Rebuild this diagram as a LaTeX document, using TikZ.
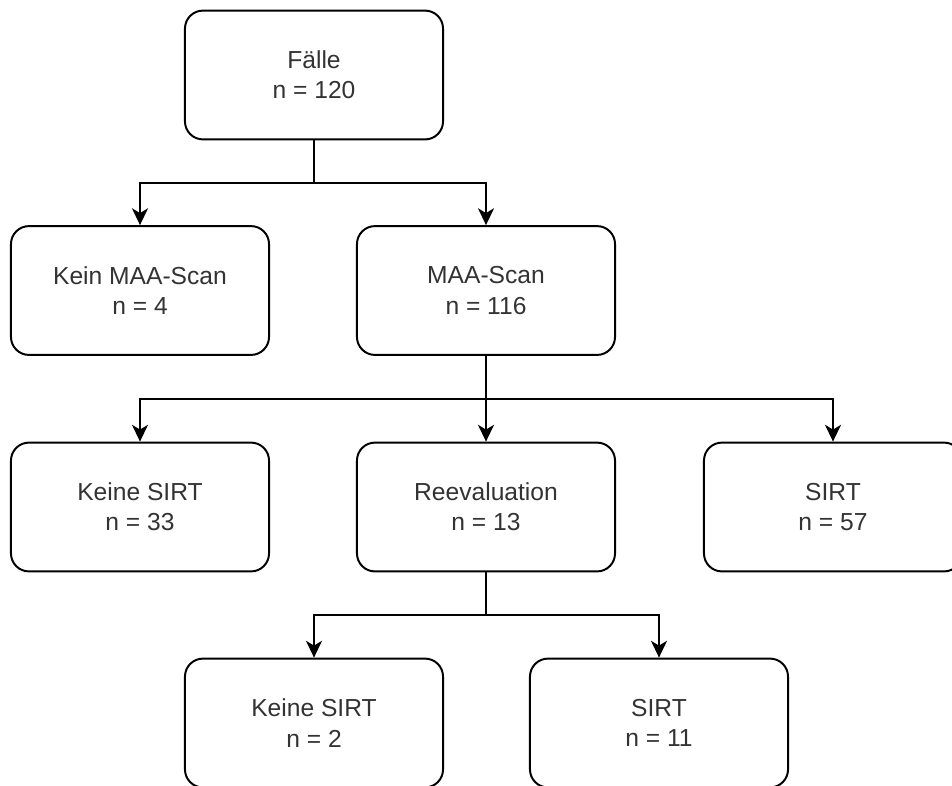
\documentclass[tikz,border=0pt]{standalone}
\usepackage{fontspec}
\setmainfont{Liberation Sans}
\usetikzlibrary{arrows.meta,positioning}

\begin{document}
\begin{tikzpicture}[x=0.025cm,y=-0.025cm,
	box/.style={draw,line width=1.4pt,rounded corners=0.45cm,fill=white,text=black!80,
		minimum width=6.45cm,minimum height=3.22cm,align=center,
		font=\fontsize{17.5}{21.5}\selectfont},
	link/.style={line width=1.4pt},
	arr/.style={line width=1.4pt,-{Stealth[length=0.42cm,width=0.4cm,inset=0.12cm]}}]
		\clip (0,0) rectangle (952,785);
		\node[box] (faelle) at (314,75) {Fälle\\n = 120};
		\node[box] (keinmaa) at (140,290.5) {Kein MAA-Scan\\n = 4};
		\node[box] (maa) at (486,290.5) {MAA-Scan\\n = 116};
		\node[box] (keinsirt) at (140,507) {Keine SIRT\\n = 33};
		\node[box] (reeval) at (486,507) {Reevaluation\\n = 13};
		\node[box] (sirt) at (833,507) {SIRT\\n = 57};
		\node[box] (reekein) at (314,723) {Keine SIRT\\n = 2};
		\node[box] (reesirt) at (659,723) {SIRT\\n = 11};
		% Verzweigungen
		\coordinate (j1) at (314,183);
		\coordinate (j2) at (486,399);
		\coordinate (j3) at (486,615);
		\draw[link] (faelle) -- (j1);
		\draw[arr] (j1) -| (keinmaa);
		\draw[arr] (j1) -| (maa);
		\draw[link] (maa) -- (j2);
		\draw[arr] (j2) -| (keinsirt);
		\draw[arr] (j2) -- (reeval);
		\draw[arr] (j2) -| (sirt);
		\draw[link] (reeval) -- (j3);
		\draw[arr] (j3) -| (reekein);
		\draw[arr] (j3) -| (reesirt);
	\end{tikzpicture}
\end{document}
